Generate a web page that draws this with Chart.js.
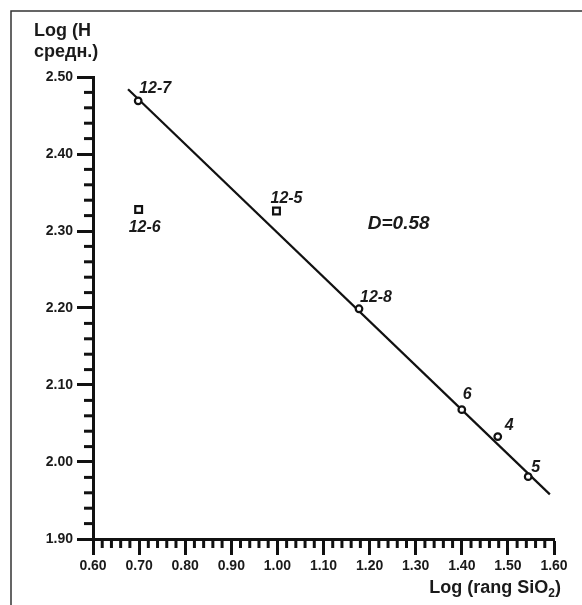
<!DOCTYPE html>
<html>
<head>
<meta charset="utf-8">
<script src="https://cdn.jsdelivr.net/npm/chart.js@4.4.0/dist/chart.umd.min.js"></script>
<style>
  html, body { margin: 0; padding: 0; background: #fff; }
  #wrap { width: 582px; height: 605px; position: relative; }
</style>
</head>
<body>
<div id="wrap"><canvas id="chart"></canvas></div>
<script>
// samples on the regression line (open circles)
const circleNames = ['12-7', '12-8', '6', '4', '5'];
const circleX = [0.698, 1.177, 1.400, 1.478, 1.544];
const circleY = [2.469, 2.199, 2.068, 2.033, 1.981];

// samples off the line (open squares)
const squareNames = ['12-6', '12-5'];
const squareX = [0.699, 0.998];
const squareY = [2.328, 2.326];

// fitted line end points
const lineX = [0.676, 1.591];
const lineY = [2.484, 1.958];

const xTicks = [0.60, 0.70, 0.80, 0.90, 1.00, 1.10, 1.20, 1.30, 1.40, 1.50, 1.60];
const yTicks = [1.90, 2.00, 2.10, 2.20, 2.30, 2.40, 2.50];
const dimText = 'D=0.58';

const ink = '#111';
const textInk = '#1a1a1a';
const tickFont = { family: 'Liberation Sans, Arial, sans-serif', size: 14, weight: 'bold' };

// label offsets relative to the marker, in px
const circleOffsets = [[1, -8], [1, -7], [1, -11], [7, -7], [3, -5]];
const squareOffsets = [[-10, 23], [-6, -8]];

const toPts = (xs, ys) => xs.map((x, i) => ({ x: x, y: ys[i] }));

const decorPlugin = {
  id: 'decor',
  beforeDraw(chart) {
    const ctx = chart.ctx;
    ctx.save();
    ctx.fillStyle = '#fff';
    ctx.fillRect(0, 0, chart.width, chart.height);
    // frame (top + left only)
    ctx.strokeStyle = '#333';
    ctx.lineWidth = 1.5;
    ctx.beginPath();
    ctx.moveTo(11, chart.height);
    ctx.lineTo(11, 11);
    ctx.lineTo(chart.width, 11);
    ctx.stroke();
    ctx.restore();
  },
  afterDraw(chart) {
    const ctx = chart.ctx;
    const xs = chart.scales.x, ys = chart.scales.y;
    const area = chart.chartArea;
    ctx.save();

    // minor ticks every 0.02
    ctx.strokeStyle = ink;
    ctx.lineWidth = 3;
    for (let i = 1; i < 50; i++) {
      if (i % 5 === 0) continue;
      const v = 0.6 + i * 0.02;
      const px = xs.getPixelForValue(v);
      ctx.beginPath();
      ctx.moveTo(px, area.bottom);
      ctx.lineTo(px, area.bottom + 9);
      ctx.stroke();
    }
    for (let i = 1; i < 30; i++) {
      if (i % 5 === 0) continue;
      const v = 1.9 + i * 0.02;
      const py = ys.getPixelForValue(v);
      ctx.beginPath();
      ctx.moveTo(area.left, py);
      ctx.lineTo(area.left - 9, py);
      ctx.stroke();
    }

    // point labels
    ctx.fillStyle = textInk;
    ctx.font = 'italic bold 16px "Liberation Sans", Arial, sans-serif';
    ctx.textAlign = 'left';
    ctx.textBaseline = 'alphabetic';
    circleNames.forEach((n, i) => {
      const px = xs.getPixelForValue(circleX[i]);
      const py = ys.getPixelForValue(circleY[i]);
      ctx.fillText(n, px + circleOffsets[i][0], py + circleOffsets[i][1]);
    });
    squareNames.forEach((n, i) => {
      const px = xs.getPixelForValue(squareX[i]);
      const py = ys.getPixelForValue(squareY[i]);
      ctx.fillText(n, px + squareOffsets[i][0], py + squareOffsets[i][1]);
    });

    // dimension annotation
    ctx.font = 'italic bold 19px "Liberation Sans", Arial, sans-serif';
    ctx.fillText(dimText, xs.getPixelForValue(1.196), ys.getPixelForValue(2.302));

    // y axis title
    ctx.font = 'bold 18px "Liberation Sans", Arial, sans-serif';
    ctx.fillText('Log (H', 34, 36);
    ctx.fillText('средн.)', 34, 57);

    // x axis title with subscript
    const base = 593;
    const mainFont = 'bold 18px "Liberation Sans", Arial, sans-serif';
    const subFont = 'bold 12px "Liberation Sans", Arial, sans-serif';
    ctx.font = mainFont;
    const w1 = ctx.measureText('Log (rang SiO').width;
    const w3 = ctx.measureText(')').width;
    ctx.font = subFont;
    const w2 = ctx.measureText('2').width;
    let x0 = 561 - (w1 + w2 + w3);
    ctx.font = mainFont;
    ctx.fillText('Log (rang SiO', x0, base);
    ctx.font = subFont;
    ctx.fillText('2', x0 + w1, base + 4);
    ctx.font = mainFont;
    ctx.fillText(')', x0 + w1 + w2, base);

    ctx.restore();
  }
};

new Chart(document.getElementById('chart'), {
  type: 'scatter',
  data: {
    datasets: [
      {
        label: 'circles',
        data: toPts(circleX, circleY),
        pointStyle: 'circle',
        pointRadius: 3.3,
        pointBorderWidth: 2.2,
        pointBorderColor: ink,
        pointBackgroundColor: '#fff',
        order: 1
      },
      {
        label: 'squares',
        data: toPts(squareX, squareY),
        pointStyle: 'rect',
        pointRadius: 4.8,
        pointBorderWidth: 2.2,
        pointBorderColor: ink,
        pointBackgroundColor: '#fff',
        order: 1
      },
      {
        type: 'line',
        label: 'fit',
        data: toPts(lineX, lineY),
        borderColor: ink,
        borderWidth: 2.2,
        pointRadius: 0,
        fill: false,
        order: 2
      }
    ]
  },
  options: {
    responsive: true,
    maintainAspectRatio: false,
    animation: false,
    events: [],
    layout: { padding: { left: 0, top: 77, right: 28, bottom: 0 } },
    plugins: { legend: { display: false }, tooltip: { enabled: false } },
    scales: {
      x: {
        type: 'linear',
        min: 0.6,
        max: 1.6,
        afterBuildTicks: s => { s.ticks = xTicks.map(v => ({ value: v })); },
        afterFit: s => { s.height = 66; },
        grid: { display: true, drawOnChartArea: false, drawTicks: true, tickLength: 16, tickWidth: 3, tickColor: ink },
        border: { display: true, color: ink, width: 3 },
        ticks: { color: textInk, font: tickFont, padding: 3, maxRotation: 0, callback: v => v.toFixed(2) }
      },
      y: {
        type: 'linear',
        min: 1.9,
        max: 2.5,
        afterBuildTicks: s => { s.ticks = yTicks.map(v => ({ value: v })); },
        afterFit: s => { s.width = 93; },
        grid: { display: true, drawOnChartArea: false, drawTicks: true, tickLength: 16, tickWidth: 3, tickColor: ink },
        border: { display: true, color: ink, width: 3 },
        ticks: { color: textInk, font: tickFont, padding: 4, callback: v => v.toFixed(2) }
      }
    }
  },
  plugins: [decorPlugin]
});
</script>
</body>
</html>
